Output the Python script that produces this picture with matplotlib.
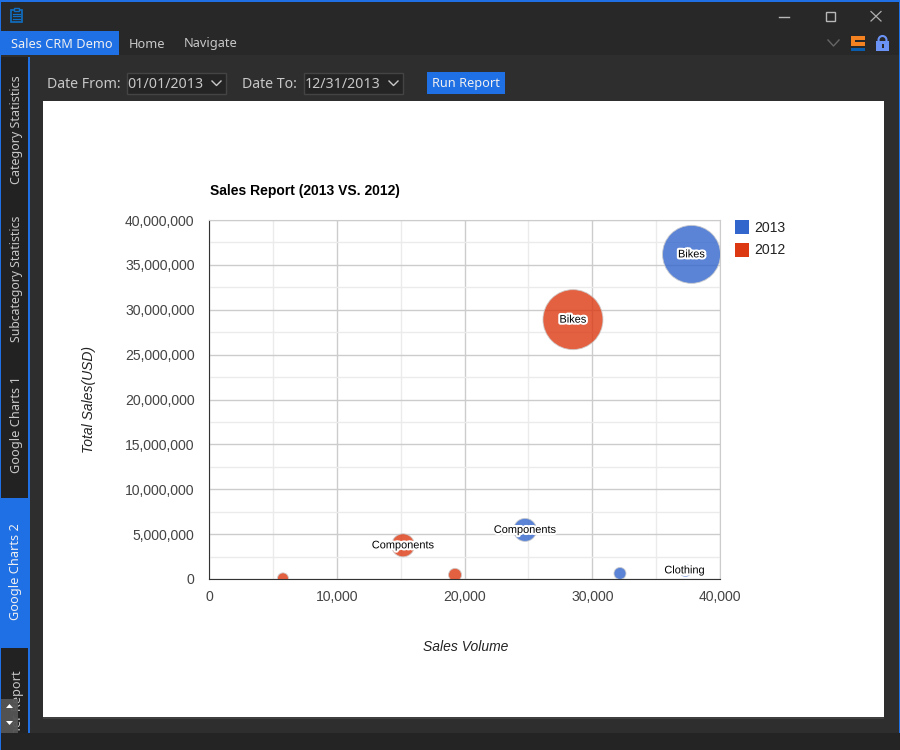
import matplotlib
matplotlib.use('Agg')
import matplotlib.pyplot as plt
import matplotlib.patheffects as pe
from matplotlib.patches import Rectangle, Polygon, Circle

UI_FONT = 'Noto Sans'
CHART_FONT = 'Liberation Sans'

# values
names_2013 = ['Bikes', 'Components', '', 'Clothing']
volume_2013 = [37770, 24740, 32170, 37230]
sales_2013 = [36170000, 5470000, 620000, 960000]
radius_2013 = [29, 11.5, 6, 6]

names_2012 = ['Bikes', 'Components', '', '']
volume_2012 = [28490, 15190, 19260, 5790]
sales_2012 = [28900000, 3750000, 460000, 70000]
radius_2012 = [30, 11.5, 6.5, 5.5]

x_ticks = [0, 10000, 20000, 30000, 40000]
y_ticks = [0, 5000000, 10000000, 15000000, 20000000, 25000000, 30000000, 35000000, 40000000]

tab_names = ['Category Statistics', 'Subcategory Statistics', 'Google Charts 1', 'Google Charts 2']

BLUE = '#1f6fe5'
TEXT = '#c8c8c8'

fig = plt.figure(figsize=(9, 7.5), dpi=100, facecolor='#2e2e2e')

# window chrome, drawn in pixel coordinates
bg = fig.add_axes([0, 0, 1, 1])
bg.set_xlim(0, 900)
bg.set_ylim(750, 0)
bg.axis('off')


def box(x, y, w, h, color, **kw):
    p = Rectangle((x, y), w, h, facecolor=color, edgecolor=kw.pop('edge', 'none'), lw=kw.pop('lw', 0), **kw)
    bg.add_patch(p)
    return p


def label(x, y, s, size=9.2, color=TEXT, **kw):
    kw.setdefault('va', 'center')
    kw.setdefault('ha', 'left')
    return bg.text(x, y, s, fontsize=size, color=color, family=UI_FONT, **kw)


box(0, 0, 900, 55, '#282828')
box(0, 733, 900, 17, '#242424')
box(0, 0, 900, 1.5, BLUE)
box(899, 0, 1, 750, BLUE)

# menu bar
box(1, 31, 118, 24, BLUE)
label(11, 44, 'Sales CRM Demo', color='#f0f0f0')
label(129, 44, 'Home')
label(184, 44, 'Navigate')

# clipboard icon
box(11, 9.5, 11, 12, 'none', edge='#0f6fc6', lw=1.2)
box(14, 7.5, 5, 3, '#282828', edge='#0f6fc6', lw=1)
bg.plot([13, 20], [13.5, 13.5], color='#0f6fc6', lw=0.9)
bg.plot([13, 20], [16, 16], color='#0f6fc6', lw=0.9)
bg.plot([13, 20], [18.5, 18.5], color='#0f6fc6', lw=0.9)

# window buttons
bg.plot([779, 789], [16.5, 16.5], color='#b8b8b8', lw=1)
box(825.5, 11.5, 9, 9, 'none', edge='#b8b8b8', lw=1)
bg.plot([871, 881], [11.5, 21], color='#b0b0b0', lw=0.9)
bg.plot([871, 881], [21, 11.5], color='#b0b0b0', lw=0.9)

# ribbon icons
bg.plot([828, 833.5, 839], [40, 46, 40], color='#666666', lw=1)
box(851, 36, 14, 4, '#f58220')
box(851, 36, 4, 9, '#f58220')
box(851, 42, 14, 4, '#f58220')
box(851, 48, 14, 3, '#0b5cab')
box(876, 41, 13, 10, '#6b93f5')
bg.add_patch(Circle((882.5, 40), 4, facecolor='none', edgecolor='#6b93f5', lw=1.5))
box(881.5, 44, 2, 4, '#282828')

# filter row
label(47, 84, 'Date From:', size=10.2)
box(126.5, 72.5, 99, 21, '#242424', edge='#444444', lw=1)
label(127, 84, '01/01/2013', size=10.2)
bg.plot([212, 216.5, 221], [81, 85.5, 81], color=TEXT, lw=1)
label(242, 84, 'Date To:', size=10.2)
box(303.5, 72.5, 99, 21, '#242424', edge='#444444', lw=1)
label(305, 84, '12/31/2013', size=10.2)
bg.plot([389, 393.5, 398], [81, 85.5, 81], color=TEXT, lw=1)
box(427, 72, 78, 22, BLUE)
label(466, 83.5, 'Run Report', size=9.2, color='#f0f0f0', ha='center')

# side tabs
box(1, 55, 27, 678, '#222222')
box(28, 55, 2, 678, BLUE)
box(1, 55, 29, 2, '#2e2e2e')
box(1, 498, 29, 150, BLUE)
label(17, 130, tab_names[0], size=9.0, rotation=90, ha='center')
label(17, 279, tab_names[1], size=8.8, rotation=90, ha='center')
label(17, 425, tab_names[2], rotation=90, ha='center')
label(15.5, 572, tab_names[3], rotation=90, ha='center', color='#f0f0f0')
clip_tab = Rectangle((1, 648), 27, 85, transform=bg.transData)
last_tab = label(18, 670, 'Partner Report', rotation=90, ha='center', va='top')
last_tab.set_clip_path(clip_tab)
box(1, 699, 17, 34, '#555555', zorder=4, alpha=0.95)
bg.add_patch(Polygon([[6, 708], [13, 708], [9.5, 704]], facecolor='white', zorder=5))
bg.add_patch(Polygon([[6, 721], [13, 721], [9.5, 725]], facecolor='white', zorder=5))
box(0, 733, 900, 17, '#242424', zorder=4)
box(0, 0, 1, 750, BLUE, zorder=6)

# white report panel
box(43, 101, 841, 616, 'white')
box(43, 717, 841, 1.5, '#3f3f3f')

# chart area in pixels: x 209-720, y 220-579
ax = fig.add_axes([209 / 900, 1 - 579 / 750, 511 / 900, 359 / 750])
ax.set_facecolor('white')
ax.set_xlim(0, 40000)
ax.set_ylim(0, 40000000)
ax.set_xticks(x_ticks)
ax.set_yticks(y_ticks)
ax.set_xticks([5000, 15000, 25000, 35000], minor=True)
ax.set_yticks([v + 2500000 for v in y_ticks[:-1]], minor=True)
ax.set_xticklabels([f'{v:,}' for v in x_ticks])
ax.set_yticklabels([f'{v:,}' for v in y_ticks])
ax.grid(True, which='major', color='#cccccc', lw=1)
ax.grid(True, which='minor', color='#ebebeb', lw=1)
ax.set_axisbelow(True)
ax.tick_params(which='both', length=0)
ax.tick_params(axis='x', pad=8, labelsize=10.1, labelcolor='#444444')
ax.tick_params(axis='y', pad=10.4, labelsize=10.1, labelcolor='#444444')
for t in ax.get_xticklabels() + ax.get_yticklabels():
    t.set_family(CHART_FONT)
ax.spines['top'].set_color('#cccccc')
ax.spines['right'].set_color('#cccccc')
ax.spines['left'].set_color('#333333')
ax.spines['bottom'].set_color('#333333')

halo = [pe.withStroke(linewidth=3, foreground='white')]


def bubbles(vol, sales, radius, names, color, name):
    sizes = [(2 * r * 0.72) ** 2 for r in radius]
    ax.scatter(vol, sales, s=sizes, color=color, alpha=0.8, edgecolor='#cccccc', linewidth=0.7, zorder=3, label=name)
    for x, y, n in zip(vol, sales, names):
        if n:
            ax.text(x, y, n, fontsize=7.9, family=CHART_FONT, color='black', ha='center', va='center', zorder=4,
                    path_effects=halo)


bubbles(volume_2013[:3], sales_2013[:3], radius_2013[:3], names_2013[:3], '#3366cc', '2013')
bubbles(volume_2012, sales_2012, radius_2012, names_2012, '#dc3912', '2012')
# the clothing bubble is almost hidden by its label halo
ax.scatter(volume_2013[3:], sales_2013[3:], s=[(2 * radius_2013[3] * 0.72) ** 2], facecolor='white',
           edgecolor='#9db5e5', linewidth=0.7, zorder=3)
ax.text(volume_2013[3], sales_2013[3], names_2013[3], fontsize=7.9, family=CHART_FONT, color='black',
        ha='center', va='center', zorder=4, path_effects=halo)

# titles and legend, placed in pixel coordinates on top of the chart
top = fig.add_axes([0, 0, 1, 1], facecolor='none')
top.set_xlim(0, 900)
top.set_ylim(750, 0)
top.axis('off')
top.text(210, 190.5, 'Sales Report (2013 VS. 2012)', fontsize=10, fontweight='bold', family=CHART_FONT,
         color='black', va='center')
top.text(465.5, 647, 'Sales Volume', fontsize=10, style='italic', family=CHART_FONT, color='#222222',
         ha='center', va='center')
top.text(89.5, 399.5, 'Total Sales(USD)', fontsize=10, style='italic', family=CHART_FONT, color='#222222',
         rotation=90, ha='center', va='center')
top.add_patch(Rectangle((735, 220), 14, 14, facecolor='#3366cc'))
top.add_patch(Rectangle((735, 243), 14, 14, facecolor='#dc3912'))
top.text(754, 227.5, '2013', fontsize=10.1, family=CHART_FONT, color='#222222', va='center')
top.text(754, 250.5, '2012', fontsize=10.1, family=CHART_FONT, color='#222222', va='center')

fig.savefig('out.png', dpi=100, facecolor=fig.get_facecolor())
